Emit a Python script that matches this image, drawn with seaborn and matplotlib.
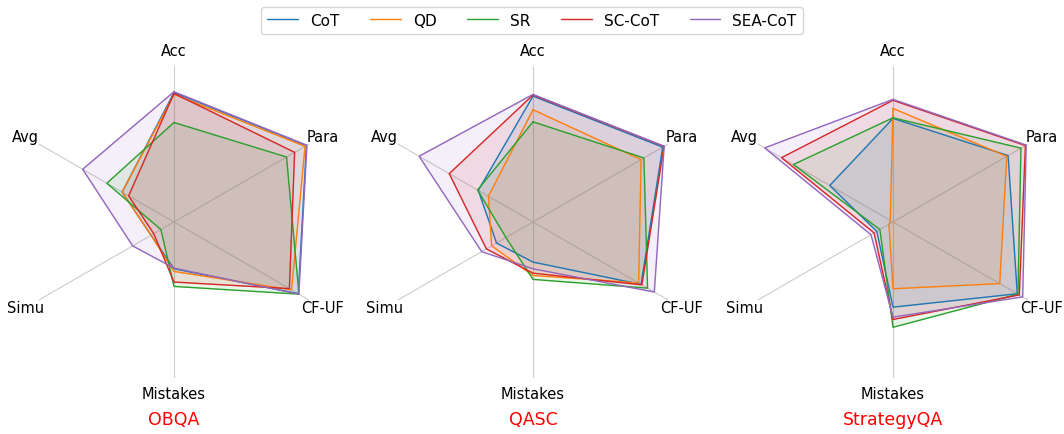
import numpy as np
import pandas as pd
import seaborn as sns
import matplotlib.pyplot as plt

# axes, clockwise from the top
metrics = ['Acc', 'Para', 'CF-UF', 'Mistakes', 'Simu', 'Avg']
methods = ['CoT', 'QD', 'SR', 'SC-CoT', 'SEA-CoT']
datasets = ['OBQA', 'QASC', 'StrategyQA']

# normalised scores (fraction of the outer radius), one list per method
obqa_cot = [0.83, 0.98, 0.92, 0.30, 0.17, 0.384]
obqa_qd = [0.818, 0.97, 0.87, 0.317, 0.17, 0.384]
obqa_sr = [0.638, 0.833, 0.925, 0.413, 0.097, 0.497]
obqa_sccot = [0.824, 0.893, 0.854, 0.385, 0.15, 0.336]
obqa_seacot = [0.835, 0.984, 0.924, 0.296, 0.306, 0.676]

qasc_cot = [0.807, 0.96, 0.80, 0.257, 0.27, 0.405]
qasc_qd = [0.72, 0.80, 0.782, 0.343, 0.306, 0.33]
qasc_sr = [0.642, 0.821, 0.848, 0.368, 0.20, 0.41]
qasc_sccot = [0.814, 0.97, 0.806, 0.328, 0.345, 0.62]
qasc_seacot = [0.818, 0.971, 0.898, 0.30, 0.38, 0.843]

sqa_cot = [0.664, 0.852, 0.92, 0.546, 0.12, 0.468]
sqa_qd = [0.728, 0.842, 0.79, 0.428, 0.03, 0.02]
sqa_sr = [0.668, 0.947, 0.925, 0.675, 0.097, 0.737]
sqa_sccot = [0.78, 0.98, 0.935, 0.625, 0.14, 0.825]
sqa_seacot = [0.786, 0.986, 0.96, 0.61, 0.163, 0.95]

scores = {
    'OBQA': [obqa_cot, obqa_qd, obqa_sr, obqa_sccot, obqa_seacot],
    'QASC': [qasc_cot, qasc_qd, qasc_sr, qasc_sccot, qasc_seacot],
    'StrategyQA': [sqa_cot, sqa_qd, sqa_sr, sqa_sccot, sqa_seacot],
}


def main():
    sns.set_style('white')
    plt.rcParams['font.family'] = ['DejaVu Sans']
    plt.rcParams['text.color'] = 'black'
    plt.rcParams['xtick.color'] = 'black'
    colors = sns.color_palette('tab10', len(methods))

    n = len(metrics)
    angles = np.linspace(0, 2 * np.pi, n + 1)

    fig = plt.figure(figsize=(10.64, 4.35), dpi=100)
    centers = [174, 533, 893]
    r_px, cy_px = 156, 223
    W, H = 1064, 435

    for name, cx in zip(datasets, centers):
        ax = fig.add_axes([(cx - r_px) / W, (H - cy_px - r_px) / H,
                           2 * r_px / W, 2 * r_px / H], polar=True)
        ax.set_theta_offset(np.pi / 2)
        ax.set_theta_direction(-1)

        for method, vals, c in zip(methods, scores[name], colors):
            closed = list(vals) + [vals[0]]
            df = pd.DataFrame({'angle': angles, 'score': closed})
            sns.lineplot(data=df, x='angle', y='score', ax=ax, sort=False,
                         estimator=None, color=c, linewidth=1, label=method)
            ax.fill(angles, closed, color=c, alpha=0.1)

        ax.set_ylim(0, 1)
        ax.set_xticks(angles[:-1])
        ax.set_xticklabels(metrics, fontsize=10.5, color='black')
        ax.tick_params(axis='x', pad=1)
        ax.set_yticks([])
        ax.set_xlabel('')
        ax.set_ylabel('')
        ax.spines['polar'].set_visible(False)
        ax.xaxis.grid(True, color='#cccccc', linewidth=0.8)
        ax.yaxis.grid(False)
        ax.get_legend().remove()
        ax.text(0.5, -0.13, name, transform=ax.transAxes, ha='center',
                va='center', color='red', fontsize=12.5)

    handles, labels = ax.get_legend_handles_labels()
    fig.legend(handles, labels, loc='upper center', ncol=5,
               bbox_to_anchor=(0.5, 1.0), fontsize=11)

    fig.savefig('out.png', dpi=100)


if __name__ == '__main__':
    main()
